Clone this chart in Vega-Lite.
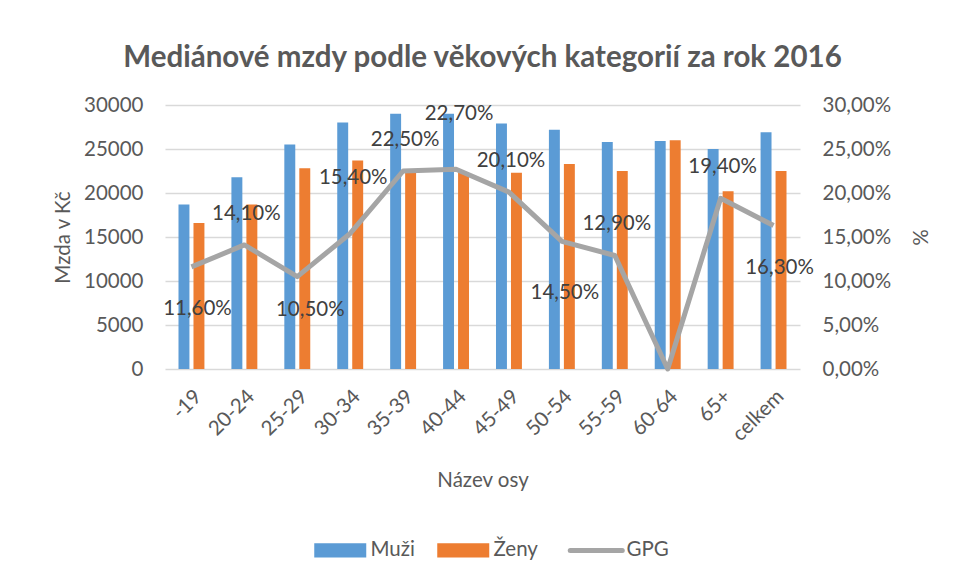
{
  "$schema": "https://vega.github.io/schema/vega-lite/v6.json",
  "autosize": {"type": "none"},
  "width": 635,
  "height": 264,
  "padding": {"left": 165, "top": 105, "right": 155, "bottom": 213},
  "background": "white",
  "config": {
    "locale": {"number": {"decimal": ",", "thousands": "", "grouping": [3], "currency": ["", " Kč"]}},
    "font": "Lato",
    "view": {"stroke": null},
    "axis": {"labelFont": "Lato", "titleFont": "Lato", "labelColor": "#595959", "titleColor": "#595959", "labelFontSize": 20.5, "titleFontSize": 20.5, "titleFontWeight": "normal"},
    "legend": {"labelFont": "Lato", "labelColor": "#595959", "labelFontSize": 20.5}
  },
  "title": {"text": "Mediánové mzdy podle věkových kategorií za rok 2016", "font": "Lato", "fontSize": 29.5, "fontWeight": "bold", "color": "#595959", "anchor": "middle", "offset": 22},
  "datasets": {
    "mzdy": [
      {"vek": "-19", "Muži": 18700, "Ženy": 16600, "gpg": 0.116},
      {"vek": "20-24", "Muži": 21800, "Ženy": 18700, "gpg": 0.141},
      {"vek": "25-29", "Muži": 25500, "Ženy": 22800, "gpg": 0.105},
      {"vek": "30-34", "Muži": 28000, "Ženy": 23700, "gpg": 0.154},
      {"vek": "35-39", "Muži": 29000, "Ženy": 22300, "gpg": 0.225},
      {"vek": "40-44", "Muži": 29000, "Ženy": 22400, "gpg": 0.227},
      {"vek": "45-49", "Muži": 27900, "Ženy": 22300, "gpg": 0.201},
      {"vek": "50-54", "Muži": 27200, "Ženy": 23300, "gpg": 0.145},
      {"vek": "55-59", "Muži": 25800, "Ženy": 22500, "gpg": 0.129},
      {"vek": "60-64", "Muži": 25900, "Ženy": 26000, "gpg": 0.0},
      {"vek": "65+", "Muži": 25000, "Ženy": 20200, "gpg": 0.194},
      {"vek": "celkem", "Muži": 26900, "Ženy": 22500, "gpg": 0.163}
    ]
  },
  "data": {"name": "mzdy"},
  "encoding": {
    "x": {
      "field": "vek", "type": "nominal", "sort": null,
      "scale": {"paddingInner": 0.51, "paddingOuter": 0.255},
      "axis": {"title": "Název osy", "labelAngle": -45, "labelPadding": 17, "ticks": false, "domain": false, "titlePadding": 26}
    }
  },
  "layer": [
    {
      "transform": [{"fold": ["Muži", "Ženy"], "as": ["pohlavi", "mzda"]}],
      "mark": {"type": "bar"},
      "encoding": {
        "xOffset": {"field": "pohlavi", "type": "nominal", "scale": {"paddingInner": 0.27}},
        "y": {
          "field": "mzda", "type": "quantitative",
          "scale": {"domain": [0, 30000]},
          "axis": {"title": "Mzda v Kč", "orient": "left", "values": [0, 5000, 10000, 15000, 20000, 25000, 30000], "format": "d", "domain": false, "ticks": false, "labelPadding": 22, "titlePadding": 10, "gridColor": "#D9D9D9", "gridWidth": 1.5}
        },
        "color": {
          "field": "pohlavi", "type": "nominal",
          "scale": {"domain": ["Muži", "Ženy", "GPG"], "range": ["#5B9BD5", "#ED7D31", "#A5A5A5"]},
          "legend": {
            "title": null, "orient": "none", "direction": "horizontal", "legendX": 165, "legendY": 435,
            "symbolSize": 2704, "labelOffset": 20, "columnPadding": 22, "symbolStrokeWidth": 0,
            "encode": {
              "symbols": {"update": {
                "shape": {"signal": "datum.value === 'GPG' ? 'M-1,0L1,0' : 'M-1,-0.27L1,-0.27L1,0.27L-1,0.27Z'"},
                "fill": {"signal": "datum.value === 'GPG' ? 'transparent' : (datum.value === 'Muži' ? '#5B9BD5' : '#ED7D31')"},
                "stroke": {"signal": "datum.value === 'GPG' ? '#A5A5A5' : 'transparent'"},
                "strokeWidth": {"signal": "datum.value === 'GPG' ? 5 : 0"},
                "strokeCap": {"value": "round"}
              }}
            }
          }
        }
      }
    },
    {
      "layer": [
        {
          "mark": {"type": "line", "color": "#A5A5A5", "strokeWidth": 5, "strokeJoin": "round"},
          "encoding": {
            "y": {
              "field": "gpg", "type": "quantitative",
              "scale": {"domain": [0, 0.3]},
              "axis": {"title": "%", "orient": "right", "values": [0, 0.05, 0.1, 0.15, 0.2, 0.25, 0.3], "format": ".2%", "domain": false, "ticks": false, "grid": false, "labelPadding": 22, "titlePadding": 18}
            },
            "color": {"datum": "GPG"}
          }
        },
        {
          "transform": [{"filter": {"field": "vek", "oneOf": ["20-24", "35-39", "45-49", "55-59", "65+"]}}],
          "mark": {"type": "text", "font": "Lato", "fontSize": 20.5, "color": "#404040", "dy": -31, "dx": 2},
          "encoding": {"y": {"field": "gpg", "type": "quantitative", "scale": {"domain": [0, 0.3]}}, "text": {"field": "gpg", "format": ".2%"}}
        },
        {
          "transform": [{"filter": {"field": "vek", "oneOf": ["30-34", "40-44"]}}],
          "mark": {"type": "text", "font": "Lato", "fontSize": 20.5, "color": "#404040", "dy": -55, "dx": 3},
          "encoding": {"y": {"field": "gpg", "type": "quantitative", "scale": {"domain": [0, 0.3]}}, "text": {"field": "gpg", "format": ".2%"}}
        },
        {
          "transform": [{"filter": {"field": "vek", "oneOf": ["-19", "celkem"]}}],
          "mark": {"type": "text", "font": "Lato", "fontSize": 20.5, "color": "#404040", "dy": 42, "dx": 6},
          "encoding": {"y": {"field": "gpg", "type": "quantitative", "scale": {"domain": [0, 0.3]}}, "text": {"field": "gpg", "format": ".2%"}}
        },
        {
          "transform": [{"filter": {"field": "vek", "oneOf": ["25-29"]}}],
          "mark": {"type": "text", "font": "Lato", "fontSize": 20.5, "color": "#404040", "dy": 33, "dx": 13},
          "encoding": {"y": {"field": "gpg", "type": "quantitative", "scale": {"domain": [0, 0.3]}}, "text": {"field": "gpg", "format": ".2%"}}
        },
        {
          "transform": [{"filter": {"field": "vek", "oneOf": ["50-54"]}}],
          "mark": {"type": "text", "font": "Lato", "fontSize": 20.5, "color": "#404040", "dy": 52, "dx": 3},
          "encoding": {"y": {"field": "gpg", "type": "quantitative", "scale": {"domain": [0, 0.3]}}, "text": {"field": "gpg", "format": ".2%"}}
        }
      ]
    }
  ],
  "resolve": {"scale": {"y": "independent"}}
}
